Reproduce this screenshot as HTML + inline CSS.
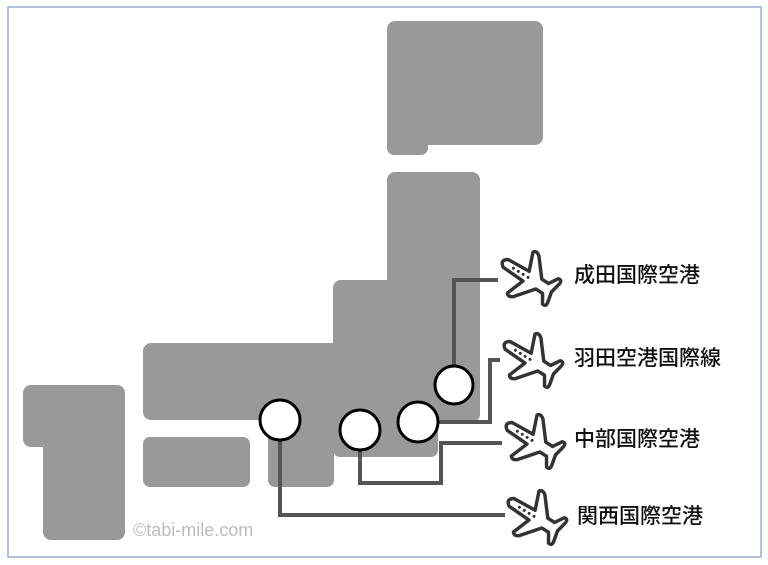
<!DOCTYPE html>
<html><head><meta charset="utf-8"><style>
body{margin:0;background:#fff;}
svg{display:block}
text{font-family:"Liberation Sans","Noto Sans CJK JP",sans-serif;}
</style></head><body>
<svg width="768" height="565" viewBox="0 0 768 565" xmlns="http://www.w3.org/2000/svg">
<defs>
<g id="pl">
<path d="M-24,-4 L-3,-5 L-9,-21 Q-7,-24 -3,-21 L10,-5 L17,-5 L22,-13 Q26,-14 25,-9 L23,0 L25,9 Q26,14 22,13 L17,5 L10,5 L-3,21 Q-7,24 -9,21 L-3,5 L-24,4 Q-30,0 -24,-4 Z" fill="#fff" stroke="#333" stroke-width="3" stroke-linejoin="round"/>
<circle cx="-16" cy="0" r="1.3" fill="#333"/><circle cx="-11" cy="0" r="1.3" fill="#333"/><circle cx="-6" cy="0" r="1.3" fill="#333"/><circle cx="-1" cy="0" r="1.3" fill="#333"/>
</g>
</defs>
<rect x="8" y="7" width="753" height="550" fill="#fff" stroke="#8aa0c8" stroke-width="1.3"/>
<g fill="#999">
<rect x="387" y="21" width="156" height="124" rx="8"/>
<rect x="387" y="120" width="41" height="35" rx="7"/>
<rect x="387" y="172" width="93" height="250" rx="8"/>
<rect x="333" y="280" width="147" height="142" rx="8"/>
<rect x="333" y="380" width="105" height="77" rx="7"/>
<rect x="143" y="343" width="300" height="77" rx="8"/>
<rect x="268" y="400" width="66" height="87" rx="7"/>
<rect x="143" y="437" width="107" height="50" rx="7"/>
<rect x="23" y="385" width="102" height="62" rx="8"/>
<rect x="43" y="420" width="82" height="120" rx="8"/>
</g>
<g fill="none" stroke="#555" stroke-width="4">
<polyline points="454,365 454,280 498,280"/>
<polyline points="437,422 490,422 490,360 500,360"/>
<polyline points="360,450 360,483 441,483 441,443 502,443"/>
<polyline points="280,440 280,515 505,515"/>
</g>
<g fill="#fff" stroke="#000" stroke-width="3">
<circle cx="280" cy="420" r="20"/>
<circle cx="360" cy="430" r="20"/>
<circle cx="418" cy="422" r="20"/>
<circle cx="454" cy="385" r="19"/>
</g>
<use href="#pl" transform="translate(529,278) rotate(32) scale(1.15)"/>
<use href="#pl" transform="translate(531,360) rotate(32) scale(1.15)"/>
<use href="#pl" transform="translate(533,441) rotate(32) scale(1.15)"/>
<use href="#pl" transform="translate(535,517) rotate(32) scale(1.15)"/>
<g font-size="21" fill="#111" font-weight="500">
<text x="574" y="282">成田国際空港</text>
<text x="574" y="365">羽田空港国際線</text>
<text x="574" y="446">中部国際空港</text>
<text x="577" y="523">関西国際空港</text>
</g>
<text x="133" y="536" font-size="18" fill="#bbb">©tabi-mile.com</text>
</svg>
</body></html>
